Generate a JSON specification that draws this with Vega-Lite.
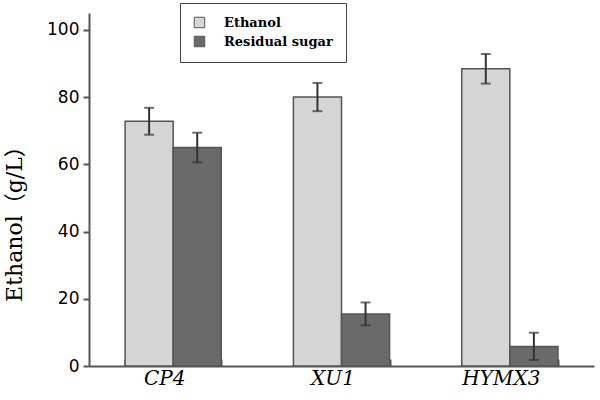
{
  "$schema": "https://vega.github.io/schema/vega-lite/v6.json",
  "width": 505,
  "height": 353,
  "autosize": "none",
  "padding": {"left": 89, "top": 13, "right": 6, "bottom": 34},
  "background": "white",
  "config": {"view": {"stroke": null}},
  "data": {
    "values": [
      {"strain": "CP4", "type": "Ethanol", "value": 72.8, "lo": 68.8, "hi": 76.8},
      {"strain": "CP4", "type": "Residual sugar", "value": 65.0, "lo": 60.6, "hi": 69.4},
      {"strain": "XU1", "type": "Ethanol", "value": 80.0, "lo": 75.8, "hi": 84.2},
      {"strain": "XU1", "type": "Residual sugar", "value": 15.5, "lo": 12.1, "hi": 18.9},
      {"strain": "HYMX3", "type": "Ethanol", "value": 88.4, "lo": 84.0, "hi": 92.8},
      {"strain": "HYMX3", "type": "Residual sugar", "value": 5.8, "lo": 1.8, "hi": 9.9}
    ]
  },
  "encoding": {
    "x": {
      "field": "strain",
      "type": "nominal",
      "sort": ["CP4", "XU1", "HYMX3"],
      "scale": {"paddingInner": 0.4286, "paddingOuter": 0.2143},
      "axis": {
        "title": null,
        "labelAngle": 0,
        "labelFont": "DejaVu Serif",
        "labelFontStyle": "italic",
        "labelFontSize": 20,
        "labelColor": "#000",
        "labelPadding": 9,
        "labelOffset": -9,
        "domainColor": "#555",
        "domainWidth": 2,
        "tickBand": "extent",
        "tickSize": -7,
        "tickColor": "#555",
        "tickWidth": 2
      }
    },
    "xOffset": {
      "field": "type",
      "type": "nominal",
      "sort": ["Ethanol", "Residual sugar"],
      "scale": {"paddingInner": 0, "paddingOuter": 0}
    }
  },
  "layer": [
    {
      "mark": {"type": "bar", "stroke": "#555", "strokeWidth": 1.5},
      "encoding": {
        "y": {
          "field": "value",
          "type": "quantitative",
          "scale": {"domain": [0, 105], "nice": false},
          "axis": {
            "values": [0, 20, 40, 60, 80, 100],
            "grid": false,
            "title": "Ethanol（g/L）",
            "titleFont": "DejaVu Serif, Noto Sans CJK SC",
            "titleFontWeight": "normal",
            "titleFontSize": 22,
            "titleColor": "#000",
            "titleX": -63,
            "titleY": 205,
            "labelFont": "DejaVu Sans",
            "labelFontSize": 17,
            "labelColor": "#000",
            "labelPadding": 4,
            "domainColor": "#555",
            "domainWidth": 2,
            "tickColor": "#555",
            "tickWidth": 2,
            "tickSize": 6
          }
        },
        "fill": {
          "field": "type",
          "type": "nominal",
          "scale": {"domain": ["Ethanol", "Residual sugar"], "range": ["#d6d6d6", "#6a6a6a"]},
          "legend": {
            "title": null,
            "orient": "none",
            "legendX": 91,
            "legendY": -10,
            "direction": "vertical",
            "strokeColor": "#444",
            "fillColor": "white",
            "padding": 13,
            "rowPadding": 4,
            "symbolType": "square",
            "symbolSize": 110,
            "symbolStrokeColor": "#555",
            "symbolStrokeWidth": 1,
            "labelFont": "DejaVu Serif",
            "labelFontWeight": "bold",
            "labelFontSize": 13,
            "labelColor": "#000",
            "labelOffset": 18
          }
        }
      }
    },
    {
      "mark": {"type": "rule", "color": "#333", "strokeWidth": 2},
      "encoding": {
        "y": {"field": "lo", "type": "quantitative"},
        "y2": {"field": "hi"}
      }
    },
    {
      "mark": {"type": "tick", "color": "#333", "thickness": 2, "size": 10, "orient": "horizontal"},
      "encoding": {"y": {"field": "hi", "type": "quantitative"}}
    },
    {
      "mark": {"type": "tick", "color": "#333", "thickness": 2, "size": 10, "orient": "horizontal"},
      "encoding": {"y": {"field": "lo", "type": "quantitative"}}
    }
  ]
}
